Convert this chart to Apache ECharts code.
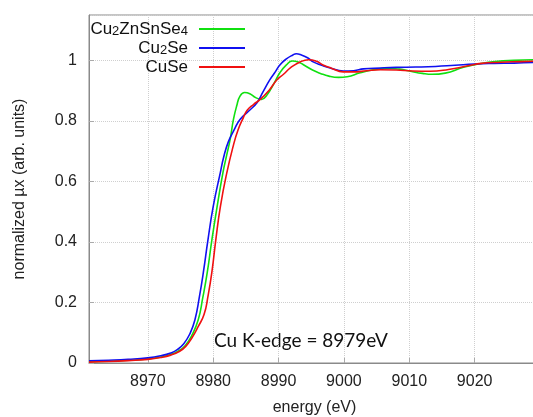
<!DOCTYPE html>
<html>
<head>
<meta charset="utf-8">
<script src="https://cdn.jsdelivr.net/npm/echarts@6/dist/echarts.min.js"></script>
<style>
  html, body { margin: 0; padding: 0; background: #fff; }
  #chart { width: 533px; height: 417px; }
</style>
</head>
<body>
<div id="chart"></div>
<script>
// Cu K-edge XANES spectra (normalized absorption vs. photon energy)
const seriesNames = ['Cu2ZnSnSe4', 'Cu2Se', 'CuSe'];
const legendLabels = ['Cu{sub|2}ZnSnSe{sub|4}', 'Cu{sub|2}Se', 'CuSe'];
const seriesColors = ['#10e010', '#1010f0', '#f01010'];

const cztsE = [8961, 8964, 8967, 8970, 8972, 8973.5, 8974.7, 8975.7, 8976.7, 8977.7, 8978.4, 8979.1, 8979.8, 8980.6, 8981.5, 8982.1, 8982.6, 8983.1, 8983.6, 8984.1, 8984.8, 8985.6, 8986.5, 8987.4, 8988.2, 8989.2, 8990.2, 8991.2, 8992.1, 8993, 8994, 8995.2, 8996.4, 8997.7, 8999.2, 9000.5, 9002.5, 9004.5, 9006.5, 9008.5, 9010.2, 9012, 9013.5, 9015.5, 9018.3, 9021, 9023.5, 9026, 9030];
const cztsMu = [0.004, 0.006, 0.009, 0.013, 0.02, 0.028, 0.04, 0.057, 0.09, 0.142, 0.215, 0.30, 0.407, 0.517, 0.63, 0.69, 0.74, 0.805, 0.85, 0.882, 0.894, 0.89, 0.877, 0.871, 0.885, 0.92, 0.959, 0.985, 0.998, 0.995, 0.983, 0.968, 0.957, 0.948, 0.944, 0.946, 0.959, 0.969, 0.974, 0.971, 0.964, 0.957, 0.954, 0.958, 0.977, 0.99, 0.997, 1.0, 1.003];

const cu2seE = [8961, 8964, 8967, 8970, 8972, 8973.5, 8974.5, 8975.5, 8976.4, 8977.2, 8977.9, 8978.5, 8979.2, 8980.0, 8981.1, 8981.6, 8982.3, 8983.2, 8984.1, 8985.4, 8986.7, 8987.6, 8988.7, 8989.5, 8990.2, 8991.2, 8992.2, 8992.7, 8993.5, 8994.5, 8995.3, 8996.6, 8997.9, 8999.9, 9001.5, 9003, 9005.6, 9008, 9011, 9014, 9017, 9020, 9023, 9026, 9030];
const cu2seMu = [0.007, 0.009, 0.012, 0.017, 0.024, 0.033, 0.044, 0.064, 0.095, 0.142, 0.22, 0.30, 0.407, 0.517, 0.63, 0.68, 0.73, 0.77, 0.805, 0.832, 0.86, 0.895, 0.937, 0.962, 0.985, 1.005, 1.018, 1.022, 1.018, 1.008, 0.995, 0.984, 0.975, 0.965, 0.966, 0.972, 0.975, 0.977, 0.978, 0.98, 0.984, 0.988, 0.99, 0.991, 0.994];

const cuseE = [8961, 8964, 8967, 8970, 8972, 8973.5, 8974.8, 8975.8, 8976.8, 8977.7, 8978.6, 8979.2, 8979.8, 8980.4, 8981.1, 8982.1, 8983.1, 8983.8, 8984.6, 8985.2, 8986.2, 8987.2, 8988.5, 8989.8, 8990.8, 8991.8, 8993.3, 8994.6, 8995.8, 8996.8, 8998, 8999.9, 9001.5, 9003.5, 9005.6, 9008, 9010.5, 9013.2, 9016, 9019, 9021, 9024, 9027, 9030];
const cuseMu = [0.003, 0.005, 0.008, 0.012, 0.018, 0.026, 0.038, 0.055, 0.085, 0.12, 0.16, 0.22, 0.30, 0.407, 0.517, 0.63, 0.72, 0.77, 0.81, 0.835, 0.855, 0.871, 0.9, 0.937, 0.955, 0.975, 0.995, 1.002, 0.997, 0.985, 0.975, 0.962, 0.962, 0.966, 0.969, 0.968, 0.965, 0.964, 0.97, 0.982, 0.99, 0.994, 0.996, 0.998];

const xTicks = [8970, 8980, 8990, 9000, 9010, 9020];
const annotation = 'Cu K-edge = 8979eV';

const energies = [cztsE, cu2seE, cuseE];
const absorbances = [cztsMu, cu2seMu, cuseMu];

function pairs(xs, ys) {
  return xs.map((x, i) => [x, ys[i]]);
}

const labelFont = 'Liberation Sans, Arial, Helvetica, sans-serif';
const chart = echarts.init(document.getElementById('chart'), null, { renderer: 'canvas' });

chart.setOption({
  animation: false,
  backgroundColor: '#ffffff',
  grid: {
    left: 89, top: 15, right: -7, bottom: 54,
    outerBoundsMode: 'none',
    containLabel: false,
    show: true, borderColor: '#8a8a8a', borderWidth: 1, backgroundColor: 'transparent'
  },
  legend: {
    orient: 'vertical',
    align: 'right',
    right: 288,
    top: 20,
    padding: 0,
    itemGap: 1,
    itemWidth: 46,
    itemHeight: 2,
    icon: 'rect',
    selectedMode: false,
    data: seriesNames,
    formatter: name => legendLabels[seriesNames.indexOf(name)],
    textStyle: {
      fontFamily: labelFont, fontSize: 17, color: '#111', lineHeight: 18,
      padding: [0, 6, 0, 0],
      rich: {
        sub: { fontFamily: labelFont, fontSize: 13, verticalAlign: 'bottom', lineHeight: 13, color: '#111' }
      }
    }
  },
  xAxis: {
    type: 'value',
    min: 8961,
    max: 9030,
    name: 'energy (eV)',
    nameLocation: 'middle',
    nameGap: 37,
    nameTextStyle: { fontFamily: labelFont, fontSize: 16, color: '#222' },
    axisLine: { show: true, lineStyle: { color: '#8a8a8a', width: 1 } },
    axisTick: { show: true, inside: true, length: 5, customValues: xTicks, lineStyle: { color: '#aaa' } },
    axisLabel: { customValues: xTicks, formatter: v => String(v), margin: 11, fontFamily: labelFont, fontSize: 16, color: '#222' },
    splitLine: { show: true, lineStyle: { color: '#cfcfcf', type: 'dotted', width: 1 } }
  },
  yAxis: {
    type: 'value',
    min: 0,
    max: 1.15,
    interval: 0.2,
    name: 'normalized µx (arb. units)',
    nameLocation: 'middle',
    nameGap: 61,
    nameTextStyle: { fontFamily: labelFont, fontSize: 16, color: '#222' },
    axisLine: { show: true, lineStyle: { color: '#8a8a8a', width: 1 } },
    axisTick: { show: true, inside: true, length: 5, lineStyle: { color: '#aaa' } },
    axisLabel: { showMaxLabel: false, margin: 12, fontFamily: labelFont, fontSize: 16, color: '#222' },
    splitLine: { show: true, lineStyle: { color: '#cfcfcf', type: 'dotted', width: 1 } }
  },
  series: seriesNames.map((name, k) => ({
    name: name,
    type: 'line',
    data: pairs(energies[k], absorbances[k]),
    smooth: 0.5,
    symbol: 'none',
    clip: true,
    lineStyle: { color: seriesColors[k], width: 1.6 },
    itemStyle: { color: seriesColors[k] }
  })),
  graphic: [{
    type: 'text',
    left: 214,
    top: 331,
    style: {
      text: annotation,
      font: '19px Lato, "Open Sans", sans-serif',
      fill: '#111'
    }
  }]
});
</script>
</body>
</html>
